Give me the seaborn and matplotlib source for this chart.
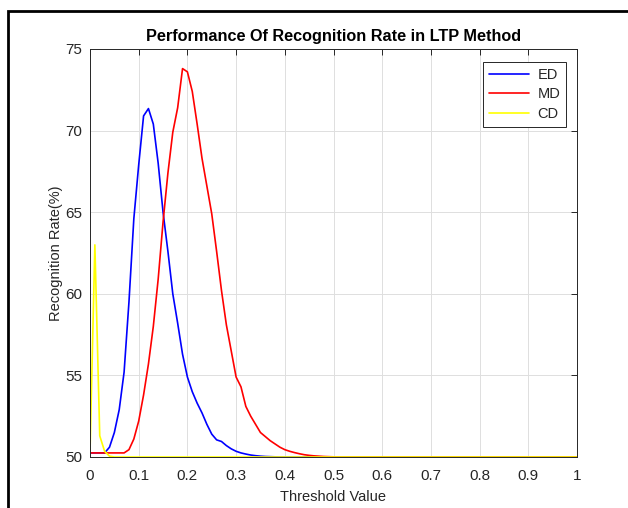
import numpy as np
import pandas as pd
import seaborn as sns
import matplotlib
matplotlib.use("Agg")
import matplotlib.pyplot as plt
from matplotlib.patches import Rectangle

# Threshold grid (0.00 .. 1.00, step 0.01)
threshold = [round(i / 100, 2) for i in range(101)]

# Recognition rate (%) for each distance measure
ed_rate = [
    50.25, 50.25, 50.25, 50.25, 50.6, 51.5, 52.9, 55.2, 59.5, 64.6,
    67.9, 70.9, 71.35, 70.4, 68.0, 65.0, 62.6, 60.0, 58.2, 56.3,
    54.9, 54.0, 53.3, 52.7, 52.0, 51.4, 51.05, 50.95, 50.7, 50.5,
    50.35, 50.25, 50.18, 50.12, 50.08, 50.05, 50.03, 50.02, 50.01, 50.0,
    50.0, 50.0, 50.0, 50.0, 50.0, 50.0, 50.0, 50.0, 50.0, 50.0,
    50.0, 50.0, 50.0, 50.0, 50.0, 50.0, 50.0, 50.0, 50.0, 50.0,
    50.0, 50.0, 50.0, 50.0, 50.0, 50.0, 50.0, 50.0, 50.0, 50.0,
    50.0, 50.0, 50.0, 50.0, 50.0, 50.0, 50.0, 50.0, 50.0, 50.0,
    50.0, 50.0, 50.0, 50.0, 50.0, 50.0, 50.0, 50.0, 50.0, 50.0,
    50.0, 50.0, 50.0, 50.0, 50.0, 50.0, 50.0, 50.0, 50.0, 50.0,
    50.0,
]
md_rate = [
    50.25, 50.25, 50.25, 50.25, 50.25, 50.25, 50.25, 50.25, 50.45, 51.1,
    52.2, 53.8, 55.7, 58.0, 60.9, 64.4, 67.4, 69.9, 71.4, 73.8,
    73.6, 72.4, 70.4, 68.3, 66.6, 64.9, 62.6, 60.2, 58.1, 56.5,
    54.9, 54.3, 53.1, 52.5, 52.0, 51.5, 51.25, 51.0, 50.8, 50.6,
    50.45, 50.35, 50.27, 50.2, 50.14, 50.1, 50.07, 50.05, 50.03, 50.02,
    50.01, 50.0, 50.0, 50.0, 50.0, 50.0, 50.0, 50.0, 50.0, 50.0,
    50.0, 50.0, 50.0, 50.0, 50.0, 50.0, 50.0, 50.0, 50.0, 50.0,
    50.0, 50.0, 50.0, 50.0, 50.0, 50.0, 50.0, 50.0, 50.0, 50.0,
    50.0, 50.0, 50.0, 50.0, 50.0, 50.0, 50.0, 50.0, 50.0, 50.0,
    50.0, 50.0, 50.0, 50.0, 50.0, 50.0, 50.0, 50.0, 50.0, 50.0,
    50.0,
]
cd_rate = [
    50.25, 63.0, 51.3, 50.35, 50.05, 50.0, 50.0, 50.0, 50.0, 50.0,
    50.0, 50.0, 50.0, 50.0, 50.0, 50.0, 50.0, 50.0, 50.0, 50.0,
    50.0, 50.0, 50.0, 50.0, 50.0, 50.0, 50.0, 50.0, 50.0, 50.0,
    50.0, 50.0, 50.0, 50.0, 50.0, 50.0, 50.0, 50.0, 50.0, 50.0,
    50.0, 50.0, 50.0, 50.0, 50.0, 50.0, 50.0, 50.0, 50.0, 50.0,
    50.0, 50.0, 50.0, 50.0, 50.0, 50.0, 50.0, 50.0, 50.0, 50.0,
    50.0, 50.0, 50.0, 50.0, 50.0, 50.0, 50.0, 50.0, 50.0, 50.0,
    50.0, 50.0, 50.0, 50.0, 50.0, 50.0, 50.0, 50.0, 50.0, 50.0,
    50.0, 50.0, 50.0, 50.0, 50.0, 50.0, 50.0, 50.0, 50.0, 50.0,
    50.0, 50.0, 50.0, 50.0, 50.0, 50.0, 50.0, 50.0, 50.0, 50.0,
    50.0,
]

methods = ["ED", "MD", "CD"]
colors = ["#0000ff", "#ff0000", "#ffff00"]
x_ticks = [0, 0.1, 0.2, 0.3, 0.4, 0.5, 0.6, 0.7, 0.8, 0.9, 1]
x_tick_labels = ["0", "0.1", "0.2", "0.3", "0.4", "0.5", "0.6", "0.7", "0.8", "0.9", "1"]
y_ticks = [50, 55, 60, 65, 70, 75]

df = pd.concat([
    pd.DataFrame({"Threshold": threshold, "Rate": vals, "Method": name})
    for name, vals in zip(methods, [ed_rate, md_rate, cd_rate])
], ignore_index=True)

sns.set_theme(style="white")
plt.rcParams["font.family"] = ["Liberation Sans", "DejaVu Sans"]

fig = plt.figure(figsize=(6.28, 5.08), dpi=100)
ax = fig.add_axes([90 / 628, 51 / 508, 487 / 628, 408 / 508])

sns.lineplot(data=df, x="Threshold", y="Rate", hue="Method",
             hue_order=methods, palette=colors, sort=False,
             linewidth=1.2, ax=ax)

ax.set_xlim(0, 1)
ax.set_ylim(50, 75)
ax.set_xticks(x_ticks)
ax.set_xticklabels(x_tick_labels)
ax.set_yticks(y_ticks)

tick_col = "#262626"
ax.grid(True, color="#dedede", linewidth=0.7)
for s in ax.spines.values():
    s.set_color(tick_col)
    s.set_linewidth(0.7)
ax.tick_params(direction="in", length=4, width=0.7, color=tick_col,
               labelcolor=tick_col, labelsize=11, top=True, right=True)
ax.tick_params(axis="x", pad=8.5)
ax.tick_params(axis="y", pad=5.5)

ax.set_xlabel("Threshold Value", fontsize=10.5, color=tick_col, labelpad=5)
ax.set_ylabel("Recognition Rate(%)", fontsize=10.5, color=tick_col, labelpad=2)
ax.set_title("Performance Of Recognition Rate in LTP Method",
             fontsize=11.7, fontweight="bold", color="black", pad=6)

handles, labels = ax.get_legend_handles_labels()
leg = ax.legend(handles, labels, loc="upper right",
                bbox_to_anchor=(566 / 628, 1 - 62 / 508),
                bbox_transform=fig.transFigure,
                fontsize=10.5, frameon=True, fancybox=False,
                edgecolor=tick_col, framealpha=1, handlelength=2.7,
                handletextpad=0.6, borderpad=0.4, labelspacing=0.38,
                borderaxespad=0)
leg.get_frame().set_linewidth(0.7)

# Outer frame around the figure
fig.add_artist(Rectangle((8 / 628, -0.2), 1.2, 1.2 - 10.5 / 508,
                         transform=fig.transFigure, fill=False,
                         edgecolor="black", linewidth=2.0, clip_on=False))

fig.savefig("out.png", dpi=100)
